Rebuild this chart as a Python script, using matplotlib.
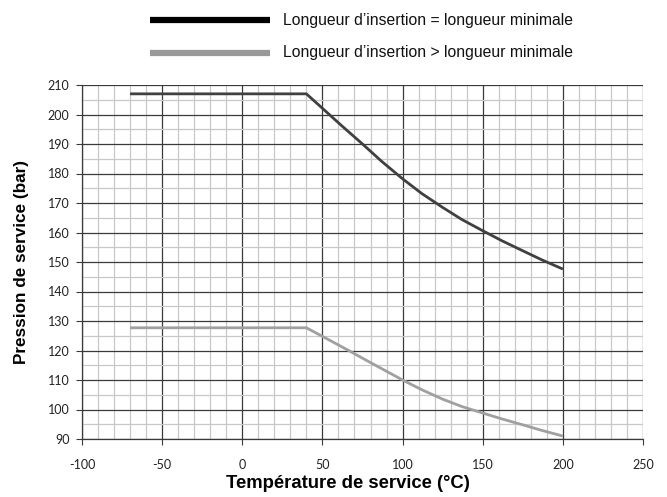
import matplotlib
matplotlib.use("Agg")
import matplotlib.pyplot as plt
from matplotlib.lines import Line2D
from matplotlib.ticker import MultipleLocator

plt.rcParams["axes.unicode_minus"] = False

temp_min = [-70, 40, 50, 62, 75, 87, 100, 112, 125, 137, 150, 162, 175, 187, 200]
p_min = [207, 207, 202.1, 196.2, 190.0, 184.1, 178.2, 173.2, 168.5, 164.4, 160.6, 157.2, 153.8, 150.7, 147.6]
temp_sup = [-70, 40, 50, 65, 80, 100, 112, 125, 137, 150, 162, 175, 187, 200]
p_sup = [127.7, 127.7, 124.8, 120.4, 115.9, 110.0, 106.7, 103.5, 101.0, 98.8, 96.8, 94.8, 92.9, 91.0]

legend_labels = ["Longueur d\u2019insertion = longueur minimale",
                 "Longueur d\u2019insertion > longueur minimale"]
xlabel = "Température de service (°C)"
ylabel = "Pression de service (bar)"

W, H = 667, 497
fig = plt.figure(figsize=(6.67, 4.97), dpi=100)
ax = fig.add_axes([82/W, 1-439/H, (643-82)/W, (439-85)/H])

ax.set_xlim(-100, 250)
ax.set_ylim(90, 210)
ax.xaxis.set_major_locator(MultipleLocator(50))
ax.xaxis.set_minor_locator(MultipleLocator(10))
ax.yaxis.set_major_locator(MultipleLocator(10))
ax.yaxis.set_minor_locator(MultipleLocator(5))
ax.grid(which="minor", color="#c8c8c8", linewidth=0.9)
ax.grid(which="major", color="#3a3a3a", linewidth=0.9)
ax.set_axisbelow(True)
for s in ["top", "right"]:
    ax.spines[s].set_visible(False)
for s in ["left", "bottom"]:
    ax.spines[s].set_color("#3a3a3a")
    ax.spines[s].set_linewidth(0.9)
ax.tick_params(which="major", length=4, color="#3a3a3a", labelsize=9, labelcolor="#222222")
ax.tick_params(axis="x", which="major", pad=10.5)
ax.tick_params(axis="y", which="major", pad=5)
ax.tick_params(which="minor", length=0)
for lab in ax.get_xticklabels() + ax.get_yticklabels():
    lab.set_fontfamily("Lato")

ax.plot(temp_min, p_min, color="#404040", linewidth=2.0, solid_capstyle="butt", zorder=3)
ax.plot(temp_sup, p_sup, color="#a0a0a0", linewidth=2.0, solid_capstyle="butt", zorder=3)

fig.text(348/W, 1-484/H, xlabel, fontsize=13.3, fontweight="bold", family="Liberation Sans",
         ha="center", va="center")
fig.text(21.5/W, 1-262/H, ylabel, fontsize=12.3, fontweight="bold", family="Liberation Sans",
         ha="center", va="center", rotation=90)

# Legend
for i, (lab, col, lw) in enumerate(zip(legend_labels, ["#000000", "#999999"], [4.5, 4.5])):
    y = 1 - (20 + 33*i)/H
    fig.add_artist(Line2D([150/W, 270/W], [y, y], color=col, linewidth=lw, transform=fig.transFigure, solid_capstyle="butt"))
    fig.text(283/W, y, lab, fontsize=11.3, family="Liberation Sans", va="center", ha="left", color="#111111")

fig.savefig("out.png", dpi=100)
